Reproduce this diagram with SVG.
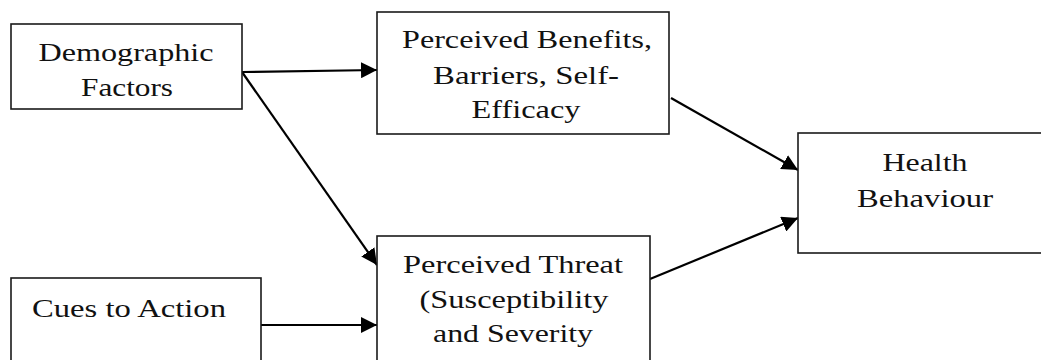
<svg xmlns="http://www.w3.org/2000/svg" width="1041" height="360" viewBox="0 0 1041 360">
  <style>
    .box { fill: #ffffff; stroke: #1a1a1a; stroke-width: 1.6; }
    .lbl { font-family: "Liberation Serif", "Times New Roman", serif; font-size: 26px; fill: #111111; text-anchor: middle; }
    .edge { stroke: #000000; stroke-width: 2.2; fill: none; marker-end: url(#arrow); }
  </style>
  <defs>
    <marker id="arrow" markerUnits="userSpaceOnUse" markerWidth="17" markerHeight="16" refX="16" refY="8" orient="auto">
      <path d="M0,0 L16,8 L0,16 Z" fill="#000000"/>
    </marker>
  </defs>
  <rect width="1041" height="360" fill="#ffffff"/>

  <g id="connectors">
    <line class="edge" x1="242" y1="72" x2="377" y2="70"/>
    <line class="edge" x1="242" y1="72" x2="377" y2="265"/>
    <line class="edge" x1="261" y1="325" x2="377" y2="325"/>
    <line class="edge" x1="671" y1="98" x2="798" y2="170"/>
    <line class="edge" x1="650" y1="279" x2="798" y2="218"/>
  </g>

  <!-- labels are set in a horizontally widened serif (x scale 1.25) -->
  <g id="demographic-factors">
    <rect class="box" x="11" y="24" width="231" height="85"/>
    <text class="lbl" transform="translate(126 61) scale(1.25 1)" textLength="140" lengthAdjust="spacingAndGlyphs">Demographic</text>
    <text class="lbl" transform="translate(127 96) scale(1.25 1)" textLength="73.6" lengthAdjust="spacingAndGlyphs">Factors</text>
  </g>

  <g id="perceived-benefits">
    <rect class="box" x="377" y="12" width="292" height="122"/>
    <text class="lbl" transform="translate(527 48) scale(1.25 1)" textLength="200" lengthAdjust="spacingAndGlyphs">Perceived Benefits,</text>
    <text class="lbl" transform="translate(526 84) scale(1.25 1)" textLength="148.8" lengthAdjust="spacingAndGlyphs">Barriers, Self-</text>
    <text class="lbl" transform="translate(526 118) scale(1.25 1)" textLength="87.2" lengthAdjust="spacingAndGlyphs">Efficacy</text>
  </g>

  <g id="health-behaviour">
    <rect class="box" x="798" y="133" width="260" height="120"/>
    <text class="lbl" transform="translate(925 171) scale(1.25 1)" textLength="68" lengthAdjust="spacingAndGlyphs">Health</text>
    <text class="lbl" transform="translate(925 207) scale(1.25 1)" textLength="108.8" lengthAdjust="spacingAndGlyphs">Behaviour</text>
  </g>

  <g id="perceived-threat">
    <rect class="box" x="377" y="236" width="273" height="140"/>
    <text class="lbl" transform="translate(513 273) scale(1.25 1)" textLength="176" lengthAdjust="spacingAndGlyphs">Perceived Threat</text>
    <text class="lbl" transform="translate(514 308) scale(1.25 1)" textLength="151.2" lengthAdjust="spacingAndGlyphs">(Susceptibility</text>
    <text class="lbl" transform="translate(513 342) scale(1.25 1)" textLength="128" lengthAdjust="spacingAndGlyphs">and Severity</text>
  </g>

  <g id="cues-to-action">
    <rect class="box" x="11" y="278" width="250" height="100"/>
    <text class="lbl" transform="translate(129 317) scale(1.25 1)" textLength="155.2" lengthAdjust="spacingAndGlyphs">Cues to Action</text>
  </g>
</svg>
